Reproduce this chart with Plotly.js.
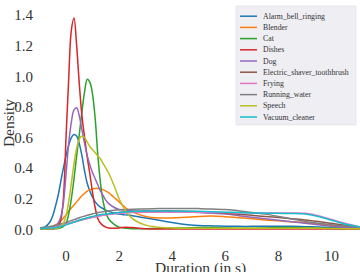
<!DOCTYPE html>
<html>
<head>
<meta charset="utf-8">
<script src="https://cdn.plot.ly/plotly-3.0.1.min.js"></script>
<style>html,body{margin:0;padding:0;background:#fff;}#chart{width:360px;height:272px;}</style>
</head>
<body>
<div id="chart"></div>
<script>
// Shared duration grid (seconds)
const duration = [-1.0,-0.8,-0.6,-0.5,-0.4,-0.3,-0.2,-0.1,0.0,0.1,0.2,0.3,0.4,0.5,0.6,0.7,0.8,0.9,1.0,1.1,1.2,1.3,1.4,1.5,1.6,1.8,2.0,2.25,2.5,3.0,3.5,4.0,4.5,5.0,5.5,6.0,6.5,7.0,7.5,8.0,8.5,9.0,9.5,10.0,10.5,11.1];

const categories = ["Alarm_bell_ringing","Blender","Cat","Dishes","Dog","Electric_shaver_toothbrush","Frying","Running_water","Speech","Vacuum_cleaner"];

const alarmBell = [0.01,0.015,0.05,0.09,0.15,0.22,0.31,0.40,0.48,0.55,0.60,0.62,0.61,0.56,0.48,0.38,0.30,0.25,0.21,0.18,0.16,0.145,0.135,0.125,0.118,0.108,0.10,0.095,0.09,0.075,0.06,0.045,0.032,0.026,0.023,0.021,0.02,0.02,0.02,0.02,0.02,0.018,0.016,0.014,0.012,0.01];
const blender   = [0.005,0.01,0.015,0.02,0.03,0.04,0.055,0.075,0.095,0.12,0.14,0.16,0.18,0.20,0.22,0.235,0.25,0.26,0.265,0.268,0.268,0.265,0.26,0.25,0.24,0.21,0.18,0.14,0.115,0.085,0.075,0.075,0.08,0.085,0.087,0.083,0.077,0.07,0.062,0.056,0.05,0.045,0.036,0.027,0.02,0.015];
const cat       = [0.005,0.005,0.005,0.005,0.005,0.006,0.01,0.02,0.04,0.10,0.20,0.33,0.48,0.62,0.77,0.90,0.98,0.96,0.88,0.72,0.48,0.30,0.18,0.11,0.07,0.035,0.015,0.008,0.005,0.005,0.006,0.008,0.01,0.012,0.012,0.01,0.008,0.008,0.01,0.012,0.012,0.01,0.008,0.006,0.005,0.005];
const dishes    = [0.005,0.005,0.005,0.005,0.008,0.02,0.06,0.20,0.60,0.98,1.30,1.38,1.20,0.95,0.74,0.60,0.47,0.36,0.24,0.14,0.07,0.04,0.025,0.015,0.01,0.008,0.01,0.015,0.012,0.005,0.003,0.003,0.003,0.003,0.003,0.003,0.003,0.003,0.003,0.003,0.003,0.003,0.003,0.003,0.003,0.002];
const dog       = [0.01,0.01,0.01,0.012,0.02,0.04,0.08,0.17,0.36,0.56,0.70,0.78,0.795,0.74,0.65,0.56,0.48,0.42,0.37,0.33,0.29,0.25,0.22,0.19,0.17,0.145,0.13,0.125,0.12,0.115,0.115,0.115,0.115,0.11,0.105,0.10,0.09,0.08,0.07,0.06,0.05,0.04,0.03,0.02,0.015,0.01];
const shaver    = [0.008,0.01,0.013,0.015,0.018,0.021,0.025,0.029,0.033,0.038,0.043,0.048,0.053,0.058,0.063,0.068,0.072,0.076,0.08,0.084,0.088,0.091,0.094,0.097,0.10,0.105,0.11,0.114,0.117,0.12,0.121,0.121,0.119,0.116,0.112,0.106,0.099,0.092,0.085,0.078,0.07,0.062,0.052,0.04,0.028,0.015];
const frying    = [0.008,0.01,0.013,0.015,0.018,0.022,0.026,0.03,0.035,0.04,0.045,0.05,0.055,0.06,0.064,0.068,0.072,0.076,0.08,0.083,0.086,0.089,0.092,0.095,0.097,0.101,0.105,0.108,0.11,0.112,0.113,0.113,0.113,0.112,0.111,0.11,0.109,0.108,0.108,0.107,0.107,0.105,0.09,0.065,0.04,0.015];
const runningWater = [0.01,0.015,0.02,0.023,0.027,0.031,0.035,0.04,0.045,0.052,0.058,0.064,0.07,0.076,0.082,0.087,0.092,0.097,0.102,0.106,0.11,0.113,0.116,0.119,0.121,0.125,0.128,0.13,0.132,0.134,0.136,0.137,0.137,0.136,0.134,0.13,0.122,0.11,0.10,0.085,0.068,0.052,0.04,0.03,0.022,0.013];
const speech    = [0.005,0.005,0.006,0.007,0.008,0.01,0.02,0.04,0.09,0.18,0.30,0.43,0.53,0.59,0.61,0.60,0.57,0.54,0.52,0.50,0.48,0.46,0.43,0.40,0.37,0.29,0.20,0.12,0.07,0.028,0.015,0.01,0.008,0.008,0.008,0.008,0.008,0.008,0.008,0.008,0.008,0.008,0.007,0.006,0.005,0.005];
const vacuum    = [0.005,0.007,0.009,0.01,0.012,0.015,0.019,0.024,0.03,0.036,0.042,0.048,0.054,0.06,0.066,0.071,0.076,0.081,0.085,0.089,0.093,0.096,0.099,0.10,0.102,0.106,0.11,0.114,0.117,0.12,0.12,0.12,0.119,0.118,0.116,0.113,0.111,0.108,0.106,0.105,0.104,0.10,0.085,0.06,0.035,0.015];

const seriesValues = [alarmBell, blender, cat, dishes, dog, shaver, frying, runningWater, speech, vacuum];
const colors = ["#1f77b4","#ff7f0e","#2ca02c","#d62728","#9467bd","#8c564b","#e377c2","#7f7f7f","#bcbd22","#17becf"];

const xTickVals = [0,2,4,6,8,10];
const xTickText = ["0","2","4","6","8","10"];
const yTickVals = [0.0,0.2,0.4,0.6,0.8,1.0,1.2,1.4];
const yTickText = ["0.0","0.2","0.4","0.6","0.8","1.0","1.2","1.4"];
const xTitle = "Duration (in s)";
const yTitle = "Density";

const FONT = "Liberation Serif, DejaVu Serif, serif";
const TXT = "#333333";

const traces = categories.map((name, i) => ({
  type: "scatter", mode: "lines", name: name,
  x: duration, y: seriesValues[i],
  line: {color: colors[i], width: 1.5, shape: "spline", smoothing: 1},
  showlegend: false, hoverinfo: "skip"
}));

// plot area in pixels
const W = 360, H = 272, mL = 40, mR = 0, mT = 6, mB = 32;
const pw = W - mL - mR, ph = H - mT - mB;
const px = v => (v - mL) / pw;
const py = v => (H - mB - v) / ph;

// manual legend (compact, like matplotlib)
const shapes = [{
  type: "rect", xref: "paper", yref: "paper",
  x0: px(236), x1: px(356), y0: py(125), y1: py(6),
  fillcolor: "#eeeef3", line: {color: "#dcdce4", width: 0.6}, layer: "above"
}];
const annotations = [];
categories.forEach((name, i) => {
  const yc = 16.2 + i * 11.2;
  shapes.push({type: "line", xref: "paper", yref: "paper",
    x0: px(240), x1: px(257), y0: py(yc), y1: py(yc),
    line: {color: colors[i], width: 1.5}, layer: "above"});
  annotations.push({xref: "paper", yref: "paper", x: px(261), y: py(yc),
    text: name, showarrow: false, xanchor: "left", yanchor: "middle",
    font: {family: FONT, size: 7.8, color: TXT}});
});
// x-axis title, placed low like the (cropped) original
annotations.push({xref: "paper", yref: "paper", x: 0.5, y: py(257),
  text: xTitle, showarrow: false, xanchor: "center", yanchor: "top",
  font: {family: FONT, size: 15.5, color: TXT}});

const layout = {
  width: W, height: H,
  margin: {l: mL, r: mR, t: mT, b: mB, pad: 0},
  paper_bgcolor: "#ffffff", plot_bgcolor: "#ffffff",
  showlegend: false,
  font: {family: FONT, size: 15, color: TXT},
  xaxis: {
    range: [-0.98, 11.07], tickvals: xTickVals, ticktext: xTickText,
    showgrid: false, zeroline: false, showline: false,
    ticks: "outside", ticklen: 2, tickcolor: "rgba(0,0,0,0)",
    tickfont: {family: FONT, size: 15, color: TXT},
    automargin: false
  },
  yaxis: {
    range: [-0.069, 1.459], tickvals: yTickVals, ticktext: yTickText,
    showgrid: false, zeroline: false, showline: false,
    ticks: "outside", ticklen: 3, tickcolor: "rgba(0,0,0,0)",
    tickfont: {family: FONT, size: 15, color: TXT},
    title: {text: yTitle, font: {family: FONT, size: 15.5, color: TXT}, standoff: 4},
    automargin: false
  },
  shapes: shapes,
  annotations: annotations
};

Plotly.newPlot("chart", traces, layout, {displayModeBar: false, staticPlot: true});
</script>
</body>
</html>
